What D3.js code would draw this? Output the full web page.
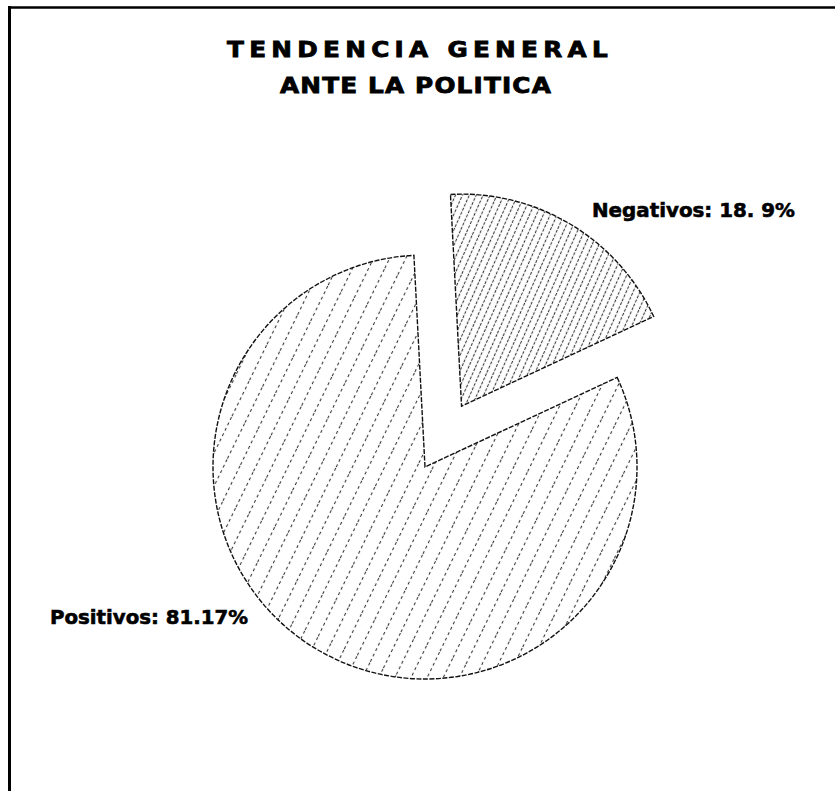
<!DOCTYPE html>
<html><head><meta charset="utf-8">
<script src="https://cdn.jsdelivr.net/npm/d3@7"></script>
<style>body{margin:0;background:#fff}svg{display:block}</style>
</head><body>
<script>
const categories = ["Negativos", "Positivos"];
const values = [18.9, 81.17];
const labels = ["Negativos: 18. 9%", "Positivos: 81.17%"];
const titleLines = ["TENDENCIA  GENERAL", "ANTE LA POLITICA"];

const W = 835, H = 791;
const svg = d3.select("body").append("svg").attr("width", W).attr("height", H);

// frame (left and top rules)
svg.append("line").attr("x1", 9.5).attr("x2", 9.5).attr("y1", 6).attr("y2", H).attr("stroke", "#000").attr("stroke-width", 3);
svg.append("line").attr("x1", 8).attr("x2", W).attr("y1", 7.5).attr("y2", 7.5).attr("stroke", "#000").attr("stroke-width", 2.5);

const defs = svg.append("defs");
function hatch(id, spacing, angle, dash) {
  const p = defs.append("pattern").attr("id", id).attr("patternUnits", "userSpaceOnUse")
    .attr("width", spacing).attr("height", 40).attr("patternTransform", `rotate(${angle})`);
  p.append("line").attr("x1", spacing / 2).attr("x2", spacing / 2).attr("y1", 0).attr("y2", 40)
    .attr("stroke", "#3a3a3a").attr("stroke-width", 1.1).attr("stroke-dasharray", dash);
}
hatch("hNeg", 6.3, 24, "3,1.5");
hatch("hPos", 14.5, 26, "3,3");

// title
const titleFont = "'DejaVu Sans', 'Liberation Sans', sans-serif";
const tl = [{t: titleLines[0], x: 420, y: 57, len: 386, fs: 21, ls: 4.5}, {t: titleLines[1], x: 416, y: 93, len: 272, fs: 21, ls: 1}];
tl.forEach(d => {
  svg.append("text").attr("x", d.x).attr("y", d.y).attr("text-anchor", "middle")
    .attr("font-family", titleFont).attr("font-weight", "bold").attr("font-size", d.fs)
    .attr("letter-spacing", d.ls)
    .attr("stroke", "#000").attr("stroke-width", 0.8)
    .attr("textLength", d.len).attr("lengthAdjust", "spacingAndGlyphs")
    .text(d.t);
});

// pie
const cx = 425, cy = 467, R = 212, explode = 71;
const start = -3 * Math.PI / 180;
const pie = d3.pie().sort(null).value(d => d).startAngle(start).endAngle(start + 2 * Math.PI);
const arcs = pie(values);
const arc = d3.arc().innerRadius(0).outerRadius(R);
const g = svg.append("g").attr("transform", `translate(${cx},${cy})`);
const fills = ["url(#hNeg)", "url(#hPos)"];
g.selectAll("path").data(arcs).join("path")
  .attr("transform", (d, i) => {
    if (i !== 0) return null;
    const a = (d.startAngle + d.endAngle) / 2;
    return `translate(${explode * Math.sin(a)},${-explode * Math.cos(a)})`;
  })
  .attr("d", arc)
  .attr("fill", (d, i) => fills[i])
  .attr("stroke", "#111").attr("stroke-width", 1.4).attr("stroke-dasharray", "5,1.5");

// labels
const lab = [{x: 592, y: 217, len: 203}, {x: 50, y: 624, len: 198}];
labels.forEach((t, i) => {
  svg.append("text").attr("x", lab[i].x).attr("y", lab[i].y)
    .attr("font-family", titleFont).attr("font-weight", "bold").attr("font-size", 20)
    .attr("stroke", "#000").attr("stroke-width", 0.6)
    .attr("textLength", lab[i].len).attr("lengthAdjust", "spacingAndGlyphs")
    .text(t);
});
</script>
</body></html>
